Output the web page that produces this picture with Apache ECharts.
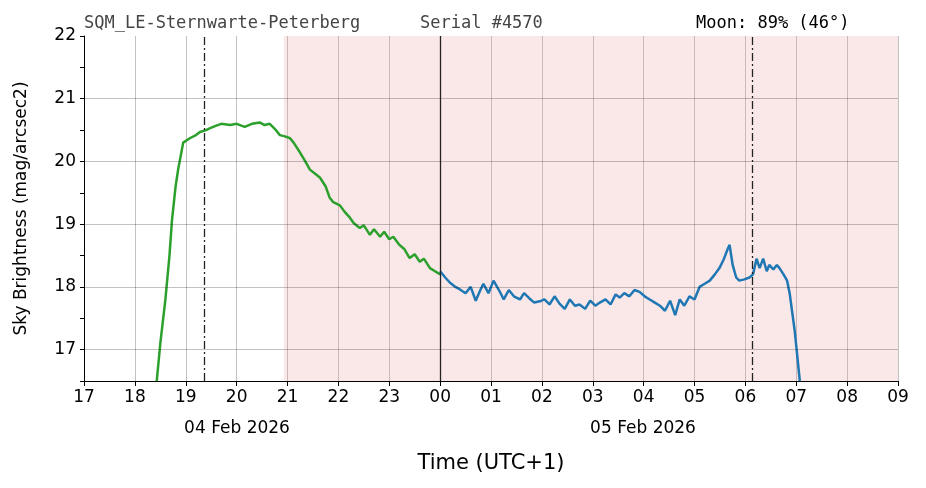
<!DOCTYPE html>
<html><head><meta charset="utf-8">
<script src="https://cdn.jsdelivr.net/npm/echarts@6/dist/echarts.min.js"></script>
<style>body{margin:0;background:#fff}#c{width:926px;height:488px}</style>
</head><body><div id="c"></div>
<script>
// hours since 00:00 on 04 Feb (24 = midnight)
var greenX = [18.43,18.5,18.6,18.68,18.73,18.8,18.85,18.95,19.08,19.2,19.28,19.4,19.48,19.6,19.7,19.87,20.0,20.16,20.3,20.46,20.55,20.65,20.75,20.85,20.95,21.05,21.12,21.24,21.35,21.44,21.55,21.64,21.75,21.83,21.9,22.03,22.12,22.23,22.3,22.42,22.5,22.62,22.7,22.82,22.9,23.0,23.08,23.2,23.3,23.4,23.5,23.6,23.68,23.8,23.9,24.0];
var greenY = [16.5,17.1,17.8,18.5,19.07,19.6,19.87,20.3,20.37,20.42,20.47,20.5,20.53,20.57,20.6,20.58,20.6,20.55,20.6,20.62,20.58,20.6,20.52,20.42,20.4,20.37,20.3,20.15,20.0,19.87,19.8,19.74,19.6,19.42,19.35,19.3,19.2,19.1,19.02,18.94,18.98,18.83,18.92,18.8,18.88,18.76,18.8,18.67,18.6,18.46,18.52,18.4,18.45,18.3,18.25,18.2];
var blueX = [24.0,24.1,24.19,24.3,24.39,24.5,24.6,24.7,24.78,24.85,24.95,25.05,25.17,25.25,25.35,25.45,25.57,25.65,25.75,25.85,25.96,26.05,26.15,26.25,26.35,26.45,26.55,26.65,26.74,26.85,26.95,27.05,27.14,27.25,27.35,27.45,27.53,27.62,27.72,27.82,27.92,28.02,28.12,28.22,28.32,28.42,28.52,28.62,28.71,28.8,28.9,29.0,29.1,29.2,29.3,29.4,29.49,29.58,29.65,29.69,29.75,29.82,29.88,29.98,30.08,30.15,30.22,30.28,30.35,30.42,30.47,30.55,30.62,30.67,30.75,30.82,30.87,30.92,30.97,31.02,31.07];
var blueY = [18.25,18.15,18.07,18.0,17.96,17.9,18.0,17.78,17.93,18.05,17.9,18.1,17.93,17.8,17.95,17.85,17.8,17.9,17.82,17.75,17.77,17.8,17.72,17.85,17.73,17.65,17.8,17.7,17.72,17.65,17.78,17.7,17.75,17.8,17.72,17.88,17.83,17.9,17.85,17.95,17.92,17.85,17.8,17.75,17.7,17.62,17.78,17.55,17.8,17.7,17.85,17.8,18.0,18.05,18.1,18.2,18.3,18.45,18.6,18.67,18.35,18.15,18.1,18.12,18.15,18.2,18.45,18.3,18.45,18.25,18.35,18.28,18.35,18.3,18.2,18.1,17.9,17.6,17.3,16.9,16.5];
var yGrid = [17,18,19,20,21];
var dashDotX = [19.37, 30.13];
var nightStart = 20.93;

function pairs(xs, ys){ return xs.map(function(x,i){ return [x, ys[i]]; }); }

var chart = echarts.init(document.getElementById('c'));
chart.setOption({
  animation: false,
  grid: {left: 84, right: 28, top: 36, bottom: 107},
  xAxis: {
    type: 'value', min: 17, max: 33, interval: 1,
    axisLine: {onZero: false, lineStyle: {color: '#000'}},
    axisTick: {length: 5, lineStyle: {color: '#000'}},
    axisLabel: {color: '#000', fontSize: 17, fontFamily: 'DejaVu Sans', margin: 8,
      formatter: function(v){ var h = v % 24; return (h < 10 ? '0' : '') + h; }},
    splitLine: {show: true, lineStyle: {color: 'rgba(0,0,0,0.3)', width: 0.8}},
    name: 'Time (UTC+1)', nameLocation: 'middle', nameGap: 72,
    nameTextStyle: {color: '#000', fontSize: 21, fontFamily: 'DejaVu Sans'}
  },
  yAxis: {
    type: 'value', min: 16.5, max: 22, interval: 0.5,
    axisLine: {show: true, lineStyle: {color: '#000'}},
    axisTick: {length: 4, lineStyle: {color: '#000'}},
    axisLabel: {color: '#000', fontSize: 17, fontFamily: 'DejaVu Sans',
      formatter: function(v){ return v % 1 === 0 ? String(v) : ''; }},
    splitLine: {show: false},
    name: 'Sky Brightness (mag/arcsec2)', nameLocation: 'middle', nameGap: 54,
    nameTextStyle: {color: '#000', fontSize: 17, fontFamily: 'DejaVu Sans'}
  },
  series: [
    {
      type: 'line', data: [], silent: true,
      markArea: {silent: true, itemStyle: {color: 'rgba(230,150,150,0.22)'},
        data: [[{xAxis: nightStart}, {xAxis: 33}]]},
      markLine: {silent: true, symbol: 'none', label: {show: false},
        data: yGrid.map(function(v){ return {yAxis: v, lineStyle: {color: 'rgba(0,0,0,0.3)', width: 0.8, type: 'solid'}}; })
          .concat(dashDotX.map(function(v){ return {xAxis: v, lineStyle: {color: '#222', width: 1.3, type: [8,3,2,3]}}; }))
          .concat([{xAxis: 24, lineStyle: {color: '#222', width: 1.3, type: 'solid'}}])}
    },
    {type: 'line', data: pairs(greenX, greenY), showSymbol: false, clip: true,
      lineStyle: {color: '#2ca02c', width: 2.5}, z: 3},
    {type: 'line', data: pairs(blueX, blueY), showSymbol: false, clip: true,
      lineStyle: {color: '#1f77b4', width: 2.5}, z: 3}
  ],
  graphic: [
    {type: 'text', left: 84, top: 15, style: {text: 'SQM_LE-Sternwarte-Peterberg', fill: '#444', font: '17px "DejaVu Sans Mono"'}},
    {type: 'text', left: 420, top: 15, style: {text: 'Serial #4570', fill: '#444', font: '17px "DejaVu Sans Mono"'}},
    {type: 'text', left: 696, top: 15, style: {text: 'Moon: 89% (46°)', fill: '#000', font: '17px "DejaVu Sans Mono"'}},
    {type: 'text', x: 237, y: 420, style: {text: '04 Feb 2026', fill: '#000', font: '17px "DejaVu Sans"', align: 'center'}},
    {type: 'text', x: 643, y: 420, style: {text: '05 Feb 2026', fill: '#000', font: '17px "DejaVu Sans"', align: 'center'}}
  ]
});
</script></body></html>
